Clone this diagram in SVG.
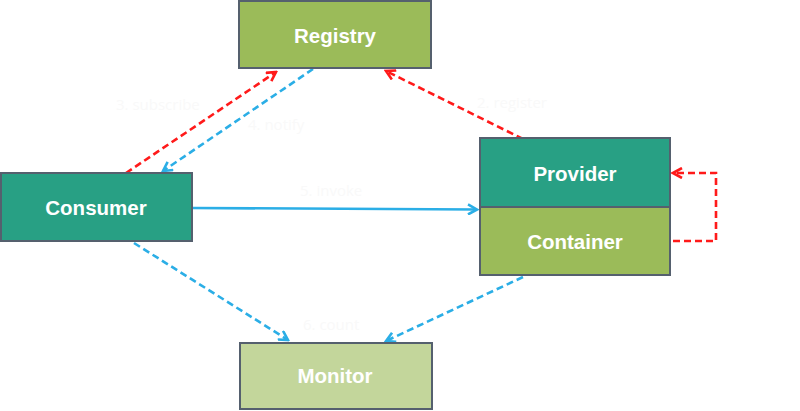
<svg xmlns="http://www.w3.org/2000/svg" width="800" height="411" viewBox="0 0 800 411">
<style>
.box{stroke:#55606E;stroke-width:2}
.lbl{font-family:"Liberation Sans",Arial,sans-serif;font-weight:bold;font-size:20.5px;fill:#FFFFFF;text-anchor:middle}
.faint{font-family:"Open Sans","Liberation Sans",sans-serif;font-size:15px;fill:#F9F9F9}
.red{stroke:#FF1A1A;stroke-width:2.6;stroke-dasharray:7 4;fill:none}
.blue{stroke:#2BAEE6;stroke-width:2.6;stroke-dasharray:7 4;fill:none}
.solid{stroke:#2BAEE6;stroke-width:2.6;fill:none}
</style>
<defs>
<marker id="ar" viewBox="0 0 12 12" refX="10" refY="6" markerWidth="12" markerHeight="12" markerUnits="userSpaceOnUse" orient="auto">
<path d="M1,1 L10,6 L1,11" fill="none" stroke="#FF1A1A" stroke-width="2.6" stroke-dasharray="none"/>
</marker>
<marker id="ab" viewBox="0 0 12 12" refX="10" refY="6" markerWidth="12" markerHeight="12" markerUnits="userSpaceOnUse" orient="auto">
<path d="M1,1 L10,6 L1,11" fill="none" stroke="#2BAEE6" stroke-width="2.6" stroke-dasharray="none"/>
</marker>
</defs>
<rect width="800" height="411" fill="#FFFFFF"/>
<g id="connectors">
<line class="red" x1="126" y1="173" x2="276" y2="72" marker-end="url(#ar)"/>
<line class="blue" x1="313" y1="69" x2="163" y2="171" marker-end="url(#ab)"/>
<line class="red" x1="523" y1="139" x2="386" y2="71" marker-end="url(#ar)"/>
<line class="solid" x1="193" y1="208" x2="477" y2="209.5" marker-end="url(#ab)"/>
<line class="blue" x1="134" y1="243" x2="288" y2="340" marker-end="url(#ab)"/>
<line class="blue" x1="523" y1="277" x2="386" y2="341" marker-end="url(#ab)"/>
<polyline class="red" points="673,241 716,241 716,173 673,173" marker-end="url(#ar)"/>
</g>
<g id="labels">
<text class="faint" x="116" y="110">3. subscribe</text>
<text class="faint" x="248" y="130">4. notify</text>
<text class="faint" x="477" y="108">2. register</text>
<text class="faint" x="300" y="196">5. invoke</text>
<text class="faint" x="303" y="330">6. count</text>
</g>
<g id="registry">
<rect class="box" x="239" y="1" width="192" height="67" fill="#9BBB59"/>
<text class="lbl" x="335" y="43">Registry</text>
</g>
<g id="consumer">
<rect class="box" x="1" y="173" width="191" height="68" fill="#28A084"/>
<text class="lbl" x="96" y="215">Consumer</text>
</g>
<g id="provider">
<rect class="box" x="480" y="138" width="190" height="69" fill="#28A084"/>
<text class="lbl" x="575" y="181">Provider</text>
</g>
<g id="container">
<rect class="box" x="480" y="207" width="190" height="68" fill="#9BBB59"/>
<text class="lbl" x="575" y="249">Container</text>
</g>
<g id="monitor">
<rect class="box" x="240" y="343" width="192" height="66" fill="#C3D69B"/>
<text class="lbl" x="335" y="383">Monitor</text>
</g>
</svg>
